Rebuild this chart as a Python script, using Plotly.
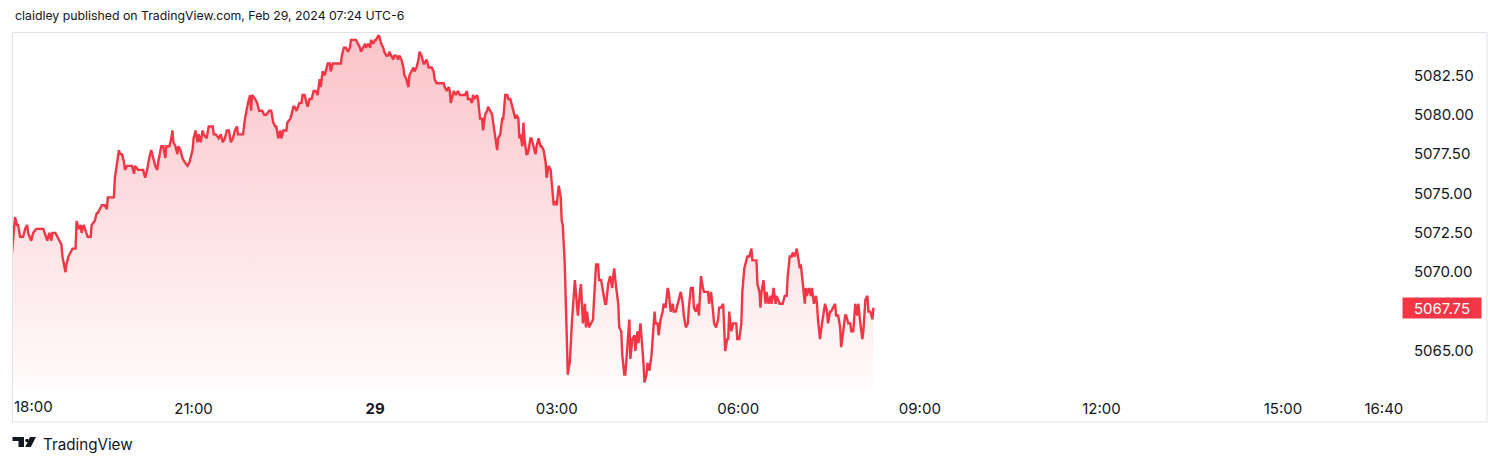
import pandas as pd
import plotly.graph_objects as go

# ---------------- DATA ----------------
SESSION_START = "2024-02-28 18:00"

# minutes after 18:00 ET, and price (ES futures)
min_eve = [0, 1, 3, 5, 6, 8, 11, 13, 15, 16, 19, 21, 24, 31, 35, 37, 39, 40, 43, 45,
           49, 50, 53, 54, 56, 58, 60, 63, 64, 66, 68, 69, 71, 75, 78, 79, 82, 84, 85, 87,
           89, 92, 94, 95, 98, 101, 102, 104, 106, 107, 109, 111, 112, 114, 117, 119, 121, 122, 125, 127,
           130, 132]
px_eve = [5071.25, 5072.0, 5073.5, 5073.0, 5073.0, 5072.25, 5072.25, 5072.75, 5073.0, 5072.5,
          5072.0, 5072.5, 5072.75, 5072.75, 5072.0, 5072.5, 5072.0, 5072.5, 5072.5, 5072.25,
          5071.75, 5071.0, 5070.0, 5070.5, 5071.0, 5071.25, 5071.5, 5071.5, 5073.25, 5072.75,
          5073.0, 5072.5, 5073.0, 5072.25, 5072.25, 5073.0, 5073.25, 5073.75, 5073.75, 5074.0,
          5074.25, 5074.25, 5074.0, 5074.75, 5074.75, 5074.75, 5076.0, 5077.0, 5077.75, 5077.5,
          5077.5, 5077.0, 5076.5, 5076.75, 5076.75, 5076.75, 5076.25, 5076.75, 5076.5, 5076.5,
          5076.5, 5076.0]

min_night = [134, 136, 138, 140, 142, 144, 145, 148, 150, 152,
             153, 156, 158, 159, 160, 162, 164, 165, 167, 169,
             171, 174, 176, 179, 180, 182, 184, 185, 187, 189,
             190, 193, 195, 199, 200, 202, 205, 207, 209, 211,
             213, 215, 217, 219, 221, 223, 224, 227, 229, 231,
             233, 234, 236, 237, 238, 241, 243, 245, 248, 250,
             252, 255, 257, 259, 261, 262, 264, 266, 267, 269,
             272, 273, 276, 277, 279]
px_night = [5076.5, 5077.25, 5077.75, 5077.25, 5076.75, 5076.5, 5077.0, 5078.0, 5078.0, 5077.25,
            5078.0, 5078.0, 5078.5, 5079.0, 5078.25, 5078.0, 5077.5, 5078.0, 5077.75, 5077.25,
            5077.0, 5076.75, 5077.0, 5077.75, 5078.5, 5079.0, 5078.25, 5078.75, 5078.25, 5079.0,
            5078.75, 5078.5, 5079.25, 5079.25, 5078.75, 5078.75, 5078.5, 5078.75, 5078.25, 5078.5,
            5079.0, 5079.0, 5078.25, 5078.5, 5079.0, 5079.25, 5078.75, 5078.75, 5078.75, 5079.75,
            5080.5, 5080.75, 5081.25, 5080.25, 5081.25, 5081.0, 5080.75, 5080.25, 5080.25, 5080.0,
            5080.0, 5080.25, 5080.25, 5079.5, 5079.25, 5079.25, 5078.5, 5079.0, 5078.5, 5079.0,
            5079.0, 5079.5, 5079.75, 5080.0, 5080.5]

min_mid = [280, 282, 285, 287, 288, 290, 292, 293, 295, 297,
           299, 301, 303, 305, 306, 308, 310, 311, 313, 315,
           316, 318, 320, 323, 326, 327, 329, 331, 333, 335,
           336, 338, 340, 341, 343, 345, 346, 348, 350, 351,
           353, 355, 356, 358, 360, 361, 363, 364, 366, 368,
           369, 371, 373, 374, 376, 378, 379, 381, 383, 384,
           386, 388, 389, 391, 393, 394, 396, 398, 399, 401,
           403, 404, 406, 408, 409, 411, 413, 414, 416, 418,
           419, 421]
px_mid = [5080.5, 5080.25, 5080.75, 5080.75, 5081.25, 5081.25, 5080.75, 5080.5, 5081.0, 5081.0,
          5081.5, 5081.5, 5081.25, 5082.25, 5081.75, 5082.75, 5082.5, 5082.75, 5083.25, 5083.25,
          5082.75, 5083.25, 5083.25, 5083.25, 5083.25, 5083.75, 5084.25, 5084.25, 5084.0, 5084.25,
          5084.75, 5084.75, 5084.75, 5084.75, 5084.5, 5084.25, 5084.0, 5084.25, 5084.5, 5084.25,
          5084.5, 5084.25, 5084.75, 5084.5, 5084.75, 5084.75, 5085.0, 5085.0, 5084.5, 5084.25,
          5084.0, 5083.75, 5083.75, 5084.0, 5083.75, 5083.5, 5083.75, 5083.75, 5083.5, 5083.75,
          5083.5, 5083.0, 5082.5, 5082.25, 5081.75, 5082.5, 5082.75, 5083.0, 5082.75, 5083.0,
          5083.5, 5084.0, 5083.75, 5083.25, 5083.25, 5083.5, 5083.0, 5083.0, 5083.0, 5082.75,
          5082.25, 5082.0]

min_early = [423, 426, 428, 429, 431, 433, 434, 435, 437, 438,
             440, 442, 444, 447, 449, 451, 452, 454, 456, 457,
             459, 461, 462, 464, 466, 467, 469, 471, 472, 474,
             476, 477, 479, 481, 482, 484, 486, 487, 489, 491,
             492, 494, 495, 497, 499, 500, 502, 503, 504, 506,
             507, 508, 510, 511, 512, 514, 515, 517, 519, 520,
             522, 524, 525, 527, 529, 530, 532, 534, 535, 537,
             539, 540, 542, 544, 545, 546, 548, 549, 550, 551,
             552, 553, 555, 557, 558, 559, 561, 563, 564]
px_early = [5082.0, 5082.0, 5082.0, 5081.75, 5081.5, 5081.75, 5081.5, 5080.75, 5081.25, 5081.5,
            5081.25, 5081.5, 5081.25, 5081.25, 5081.25, 5081.5, 5081.0, 5081.0, 5080.75, 5081.25,
            5081.0, 5081.25, 5081.0, 5079.75, 5079.75, 5079.0, 5080.0, 5080.25, 5080.5, 5080.25,
            5080.0, 5079.5, 5078.5, 5077.75, 5078.5, 5078.75, 5079.75, 5079.75, 5081.25, 5081.25,
            5081.0, 5081.0, 5080.75, 5080.25, 5079.75, 5080.0, 5079.75, 5078.5, 5078.75, 5078.0,
            5079.5, 5078.5, 5077.5, 5077.5, 5077.75, 5078.5, 5078.5, 5078.0, 5077.5, 5078.0,
            5078.5, 5078.0, 5078.0, 5077.75, 5077.0, 5076.0, 5076.75, 5076.5, 5075.75, 5074.25,
            5074.5, 5074.25, 5075.5, 5074.75, 5073.25, 5073.0, 5070.5, 5067.5, 5064.5, 5063.5,
            5064.0, 5064.25, 5066.75, 5069.0, 5069.5, 5068.75, 5067.25, 5068.75, 5069.25]

min_europe = [566, 568, 569, 570, 572, 574, 576, 577, 579, 581,
              582, 584, 586, 588, 589, 591, 593, 595, 596, 597,
              599, 601, 602, 604, 605, 607, 608, 610, 612, 613,
              615, 617, 618, 620, 621, 623, 625, 626, 627, 629,
              630, 632, 634, 635, 637, 638, 640, 641, 643, 645,
              646, 648, 650, 651, 653, 655, 656, 658, 660, 661,
              663, 665, 666, 668, 670, 671, 673, 675, 676, 678,
              680, 681, 683, 685, 686, 688, 690, 691, 693, 695,
              696, 698, 700, 701, 703, 705, 706, 707, 709]
px_europe = [5066.75, 5068.0, 5066.5, 5067.5, 5066.5, 5066.75, 5067.0, 5068.25, 5070.5, 5070.5,
             5069.5, 5069.5, 5068.75, 5068.0, 5068.0, 5069.25, 5069.75, 5069.0, 5069.75, 5070.25,
             5069.0, 5068.0, 5066.5, 5066.25, 5064.75, 5063.5, 5063.5, 5065.0, 5067.0, 5064.5,
             5065.75, 5066.0, 5065.0, 5066.25, 5065.5, 5066.75, 5065.25, 5064.25, 5063.0, 5063.5,
             5064.25, 5063.75, 5064.75, 5065.75, 5067.5, 5066.75, 5066.75, 5066.0, 5067.0, 5067.5,
             5068.0, 5067.75, 5069.0, 5068.75, 5067.5, 5068.0, 5067.5, 5067.5, 5068.0, 5068.25,
             5068.75, 5068.0, 5067.25, 5066.5, 5066.75, 5067.75, 5069.0, 5069.0, 5067.75, 5067.5,
             5068.0, 5067.25, 5069.75, 5069.0, 5068.75, 5068.75, 5068.75, 5068.0, 5068.75, 5067.5,
             5066.75, 5066.5, 5067.0, 5067.75, 5067.75, 5068.0, 5066.25, 5065.0, 5065.75]

min_morning = [710, 711, 713, 715, 716, 718, 719, 721, 723, 724,
               726, 728, 729, 731, 733, 734, 736, 738, 739, 741,
               742, 743, 745, 746, 747, 748, 750, 752, 753, 755,
               757, 758, 761, 764, 766, 768, 769, 771, 773, 774,
               776, 778, 779, 781, 782, 784, 786, 787, 788, 790,
               792, 793, 795, 797, 798, 799, 801, 803, 804, 806,
               808, 809, 811, 812, 814, 816, 817, 819, 821, 822,
               824, 826, 827, 829, 831, 832, 834, 836, 838, 839,
               841, 843, 844, 846, 848, 849, 851, 853, 854]
px_morning = [5065.75, 5067.5, 5066.25, 5066.75, 5066.75, 5066.75, 5065.75, 5065.75, 5066.75, 5068.75,
              5070.25, 5070.75, 5071.0, 5071.0, 5071.5, 5070.75, 5070.75, 5070.75, 5069.25, 5068.75,
              5067.75, 5068.75, 5069.5, 5068.75, 5068.0, 5068.75, 5068.0, 5068.5, 5068.0, 5069.0,
              5068.0, 5068.5, 5068.0, 5068.0, 5068.5, 5068.5, 5069.75, 5071.0, 5071.0, 5071.25,
              5071.0, 5071.5, 5071.0, 5070.25, 5070.5, 5069.25, 5068.0, 5069.0, 5068.5, 5069.0,
              5068.5, 5069.0, 5068.0, 5068.5, 5068.0, 5067.0, 5065.75, 5066.75, 5067.25, 5068.0,
              5067.5, 5066.75, 5067.5, 5067.5, 5067.75, 5068.0, 5067.25, 5067.25, 5066.5, 5065.25,
              5066.25, 5067.25, 5067.25, 5066.75, 5066.75, 5066.25, 5066.25, 5068.0, 5067.25, 5068.0,
              5066.75, 5065.75, 5066.25, 5068.25, 5068.5, 5067.5, 5067.5, 5067.0, 5067.75]

X_TICKS = ["2024-02-28 21:00", "2024-02-29 00:00", "2024-02-29 03:00", "2024-02-29 06:00",
           "2024-02-29 09:00", "2024-02-29 12:00", "2024-02-29 15:00", "2024-02-29 16:40"]
X_TICK_TEXT = ["21:00", "<b>29</b>", "03:00", "06:00", "09:00", "12:00", "15:00", "16:40"]
FIRST_TICK_TEXT = "18:00"
# 5067.50 is hidden behind the last-price label in the reference
Y_TICKS = [5065.0, 5070.0, 5072.5, 5075.0, 5077.5, 5080.0, 5082.5]

HEADER = "claidley published on TradingView.com, Feb 29, 2024 07:24 UTC-6"
FOOTER = "TradingView"

# ---------------- BUILD ----------------
minutes = min_eve + min_night + min_mid + min_early + min_europe + min_morning
prices = px_eve + px_night + px_mid + px_early + px_europe + px_morning
assert len(minutes) == len(prices), (len(minutes), len(prices))
times = pd.Timestamp(SESSION_START) + pd.to_timedelta(minutes, unit="min")
last_price = prices[-1]

X_RANGE = [SESSION_START, "2024-02-29 16:56"]
Y_RANGE = [5062.65, 5085.25]

OFF = 8  # default body margin of the html page
FIG_W, FIG_H = 1500 - OFF, 465 - OFF
# plot area in page pixels
PL, PR, PT, PB = 12, 1400, 32, 388
PW, PH = PR - PL, PB - PT


def pxx(x):
    return (x - PL) / PW


def pxy(y):
    return (PB - y) / PH


RED = "#F23645"
TXT = "#131722"
FONT = "Inter, Roboto, sans-serif"
TICK_SIZE = 15

fig = go.Figure()
fig.add_trace(go.Scatter(
    x=times, y=prices, mode="lines",
    line=dict(color=RED, width=2.4),
    fill="tozeroy",
    fillgradient=dict(type="vertical", start=Y_RANGE[0], stop=Y_RANGE[1],
                      colorscale=[[0, "rgba(242,54,69,0.02)"], [1, "rgba(242,54,69,0.30)"]]),
    hoverinfo="skip", showlegend=False,
))

shapes = [
    dict(type="rect", xref="paper", yref="paper",
         x0=pxx(12.5), x1=pxx(1487), y0=pxy(422), y1=pxy(32.5),
         line=dict(color="#E0E3EB", width=1), fillcolor="rgba(0,0,0,0)", layer="above"),
]


def path(points):
    return "M " + " L ".join(f"{pxx(x):.5f},{pxy(y):.5f}" for x, y in points) + " Z"


logo_polys = [
    [(12.5, 437), (24, 437), (24, 447), (18.5, 447), (18.5, 441), (12.5, 441)],
    [(30, 437), (36, 437), (30.8, 447), (25.3, 447)],
]
for poly in logo_polys:
    shapes.append(dict(type="path", xref="paper", yref="paper", path=path(poly),
                       fillcolor=TXT, line=dict(width=0)))
shapes.append(dict(type="circle", xref="paper", yref="paper",
                   x0=pxx(25.2), x1=pxx(28.8), y0=pxy(442.3), y1=pxy(438.7),
                   fillcolor=TXT, line=dict(width=0)))

annotations = [
    dict(text=HEADER, xref="paper", yref="paper", x=pxx(12.5), y=pxy(16),
         xanchor="left", yanchor="middle", showarrow=False,
         font=dict(family=FONT, size=12.3, color=TXT)),
    dict(text=FOOTER, xref="paper", yref="paper", x=pxx(41), y=pxy(444),
         xanchor="left", yanchor="middle", showarrow=False,
         font=dict(family=FONT, size=15.2, color=TXT)),
    dict(text=FIRST_TICK_TEXT, xref="x", yref="paper", x=SESSION_START, y=pxy(406),
         xanchor="left", yanchor="middle", showarrow=False,
         font=dict(family=FONT, size=TICK_SIZE, color=TXT)),
    dict(text=f"{last_price:.2f}", xref="paper", yref="y", x=pxx(1442), y=last_price,
         xanchor="center", yanchor="middle", showarrow=False,
         bgcolor=RED, borderpad=0, width=78, height=20, align="center",
         font=dict(family=FONT, size=TICK_SIZE, color="white")),
]

fig.update_layout(
    width=FIG_W, height=FIG_H,
    margin=dict(l=PL - OFF, r=FIG_W - (PR - OFF), t=PT - OFF, b=FIG_H - (PB - OFF), pad=0),
    paper_bgcolor="white", plot_bgcolor="white",
    showlegend=False,
    shapes=shapes, annotations=annotations,
    xaxis=dict(type="date", range=X_RANGE, tickvals=X_TICKS, ticktext=X_TICK_TEXT,
               showgrid=False, zeroline=False, showline=False, ticks="",
               ticklabelstandoff=10,
               tickfont=dict(family=FONT, size=TICK_SIZE, color=TXT), fixedrange=True),
    yaxis=dict(side="right", range=Y_RANGE, tickvals=Y_TICKS, tickformat=".2f",
               showgrid=False, zeroline=False, showline=False, ticks="",
               ticklabelstandoff=13,
               tickfont=dict(family=FONT, size=TICK_SIZE, color=TXT), fixedrange=True),
)

fig.write_html("out.html")
